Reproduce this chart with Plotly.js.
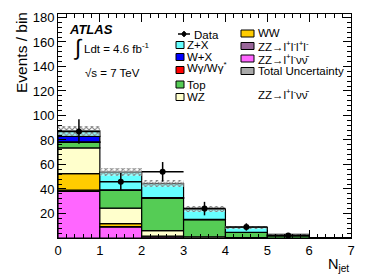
<!DOCTYPE html>
<html><head><meta charset="utf-8">
<script src="https://cdn.plot.ly/plotly-3.0.1.min.js"></script>
<style>html,body{margin:0;padding:0;background:#fff}#c{width:390px;height:280px}</style>
</head><body><div id="c"></div>
<script>
// ---- data ----
const binCenters = [0.5, 1.5, 2.5, 3.5, 4.5, 5.5, 6.5];
const binHalfWidth = [0.5, 0.5, 0.5, 0.5, 0.5, 0.5, 0.5];
const zzLLvv   = [38, 9, 1, 0, 0, 0, 0];
const zzLLLL   = [1, 0.3, 0.2, 0, 0, 0, 0];
const wwBkg    = [13.5, 2.5, 0.3, 0, 0, 0, 0];
const wzBkg    = [21, 12.5, 4.5, 1, 0.3, 0, 0];
const topBkg   = [4.5, 14.5, 26.5, 14, 4.3, 2, 0];
const wGamma   = [0.5, 0.2, 0.1, 0, 0, 0, 0];
const wPlusX   = [4.5, 0.3, 0.3, 0.2, 0, 0, 0];
const zPlusX   = [4.5, 14.5, 11.5, 8.3, 4, 1, 0];
const totalUnc = [4, 3.5, 3, 2.5, 1.2, 0.6, 0];
const dataX    = [0.5, 1.5, 2.5, 3.5, 4.5, 5.5];
const dataY    = [87, 46, 54, 24, 9, 2];
const dataErr  = [10, 7, 8, 5.5, 3, 1.5];
const xTickVals = [0, 1, 2, 3, 4, 5, 6, 7];
const yTickVals = [0, 20, 40, 60, 80, 100, 120, 140, 160, 180];
const yTickText = ['', '20', '40', '60', '80', '100', '120', '140', '160', '180'];

const FONT = 'Liberation Sans';
const stack = [
  {name: 'ZZ→llνν', y: zzLLvv, color: '#ff66ff'},
  {name: 'ZZ→llll', y: zzLLLL, color: '#996699'},
  {name: 'WW', y: wwBkg, color: '#ffcc00'},
  {name: 'WZ', y: wzBkg, color: '#ffffcc'},
  {name: 'Top', y: topBkg, color: '#55cc55'},
  {name: 'Wγ', y: wGamma, color: '#ff0000'},
  {name: 'W+X', y: wPlusX, color: '#0000ff'},
  {name: 'Z+X', y: zPlusX, color: '#66ffff'}
];
const traces = [];
let cum = binCenters.map(() => 0);
stack.forEach(s => {
  traces.push({type: 'bar', x: binCenters, y: s.y, base: cum.slice(), width: 1,
    marker: {color: s.color, line: {color: '#000', width: 1.2}}, showlegend: false, hoverinfo: 'skip'});
  cum = cum.map((v, i) => v + s.y[i]);
});
traces.push({type: 'bar', x: binCenters, y: totalUnc.map(u => 2 * u),
  base: cum.map((v, i) => v - totalUnc[i]), width: 1,
  marker: {color: 'rgba(0,0,0,0)', line: {width: 0},
    pattern: {shape: 'x', fgcolor: '#808080', bgcolor: 'rgba(255,255,255,0.35)', size: 4, solidity: 0.45}},
  showlegend: false, hoverinfo: 'skip'});
traces.push({type: 'scatter', mode: 'markers', x: dataX, y: dataY,
  marker: {color: '#000', size: 6, symbol: 'circle'},
  error_y: {type: 'data', array: dataErr, color: '#000', thickness: 1.5, width: 0},
  error_x: {type: 'data', array: binHalfWidth.slice(0, dataX.length), color: '#000', thickness: 1.5, width: 0},
  showlegend: false, hoverinfo: 'skip'});

// pixel -> paper helpers for the hand-made legend / labels
const L = 58, R = 351, T = 14, B = 238;
const px = x => (x - L) / (R - L);
const py = y => (B - y) / (B - T);

const shapes = [];
const ann = [];
function txt(text, x, y, size, opts) {
  ann.push(Object.assign({text: text, xref: 'paper', yref: 'paper', x: px(x), y: py(y),
    xanchor: 'left', yanchor: 'middle', showarrow: false,
    font: {family: FONT, size: size, color: '#000'}}, opts || {}));
}
function box(x0, x1, yc, h, color) {
  shapes.push({type: 'rect', xref: 'paper', yref: 'paper', x0: px(x0), x1: px(x1),
    y0: py(yc + h / 2), y1: py(yc - h / 2), fillcolor: color, line: {color: '#000', width: 1}});
}
// column 1
shapes.push({type: 'line', xref: 'paper', yref: 'paper', x0: px(178), x1: px(190), y0: py(34), y1: py(34), line: {color: '#000', width: 1.5}});
shapes.push({type: 'line', xref: 'paper', yref: 'paper', x0: px(184), x1: px(184), y0: py(31), y1: py(37), line: {color: '#000', width: 1.5}});
shapes.push({type: 'circle', xref: 'paper', yref: 'paper', x0: px(182), x1: px(186), y0: py(36), y1: py(32), fillcolor: '#000', line: {color: '#000', width: 1}});
txt('Data', 192, 35, 11.5);
const col1 = [['Z+X', '#66ffff', 45], ['W+X', '#0000ff', 57], ['Wγ/Wγ<sup>*</sup>', '#ff0000', 70], ['Top', '#55cc55', 84.5], ['WZ', '#ffffcc', 97]];
col1.forEach(r => { box(176, 184, r[2], 7, r[1]); txt(r[0], 185, r[2] - (r[0].startsWith('Wγ') ? 3 : 0), 11.5); });
// column 2
const col2 = [['WW', '#ffcc00', 33.5], ['ZZ→l<sup>+</sup>l<sup>-</sup>l<sup>+</sup>l<sup>-</sup>', '#996699', 46], ['ZZ→l<sup>+</sup>l<sup>-</sup>νν\u0304', '#ff66ff', 58.5], ['Total Uncertainty', '#a9a9a9', 71]];
col2.forEach(r => { box(241, 254, r[2], 7, r[1]); txt(r[0], 256, r[2], 11.5); });
txt('ZZ→l<sup>+</sup>l<sup>-</sup>νν\u0304', 256, 94, 11.5);
// ATLAS labels
txt('<b><i>ATLAS</i></b>', 67, 29.5, 13);
txt('∫', 71, 47, 22);
txt('Ldt = 4.6 fb<sup>-1</sup>', 82, 48, 11.5);
txt('√s = 7 TeV', 83, 72.5, 11.5);
// axis titles
ann.push({text: 'Events / bin', xref: 'paper', yref: 'paper', x: px(21), y: py(53), textangle: -90,
  xanchor: 'center', yanchor: 'middle', showarrow: false, font: {family: FONT, size: 15.5, color: '#000'}});
ann.push({text: 'N<sub>jet</sub>', xref: 'paper', yref: 'paper', x: 1.0, y: py(265),
  xanchor: 'right', yanchor: 'middle', showarrow: false, font: {family: FONT, size: 14.5, color: '#000'}});

const layout = {
  width: 390, height: 280, margin: {l: L, r: 390 - R, t: T, b: 280 - B},
  paper_bgcolor: '#fff', plot_bgcolor: '#fff', barmode: 'overlay', bargap: 0,
  font: {family: FONT, size: 13, color: '#000'},
  xaxis: {range: [0, 7], tickmode: 'array', tickvals: xTickVals, ticks: 'inside', ticklen: 8, tickwidth: 1,
    tickcolor: '#000', showline: true, linecolor: '#000', linewidth: 1, mirror: 'allticks', showgrid: false, zeroline: false,
    tickfont: {family: FONT, size: 13},
    minor: {tickmode: 'linear', tick0: 0, dtick: 0.2, ticklen: 4, tickcolor: '#000', ticks: 'inside', showgrid: false}},
  yaxis: {range: [0, 182.8], tickmode: 'array', tickvals: yTickVals, ticktext: yTickText, ticks: 'inside', ticklen: 8,
    tickwidth: 1, tickcolor: '#000', showline: true, linecolor: '#000', linewidth: 1, mirror: 'allticks', showgrid: false, zeroline: false,
    tickfont: {family: FONT, size: 13},
    minor: {tickmode: 'linear', tick0: 0, dtick: 4, ticklen: 4, tickcolor: '#000', ticks: 'inside', showgrid: false}},
  shapes: shapes, annotations: ann, showlegend: false
};
Plotly.newPlot('c', traces, layout, {staticPlot: true, displayModeBar: false});
</script></body></html>
